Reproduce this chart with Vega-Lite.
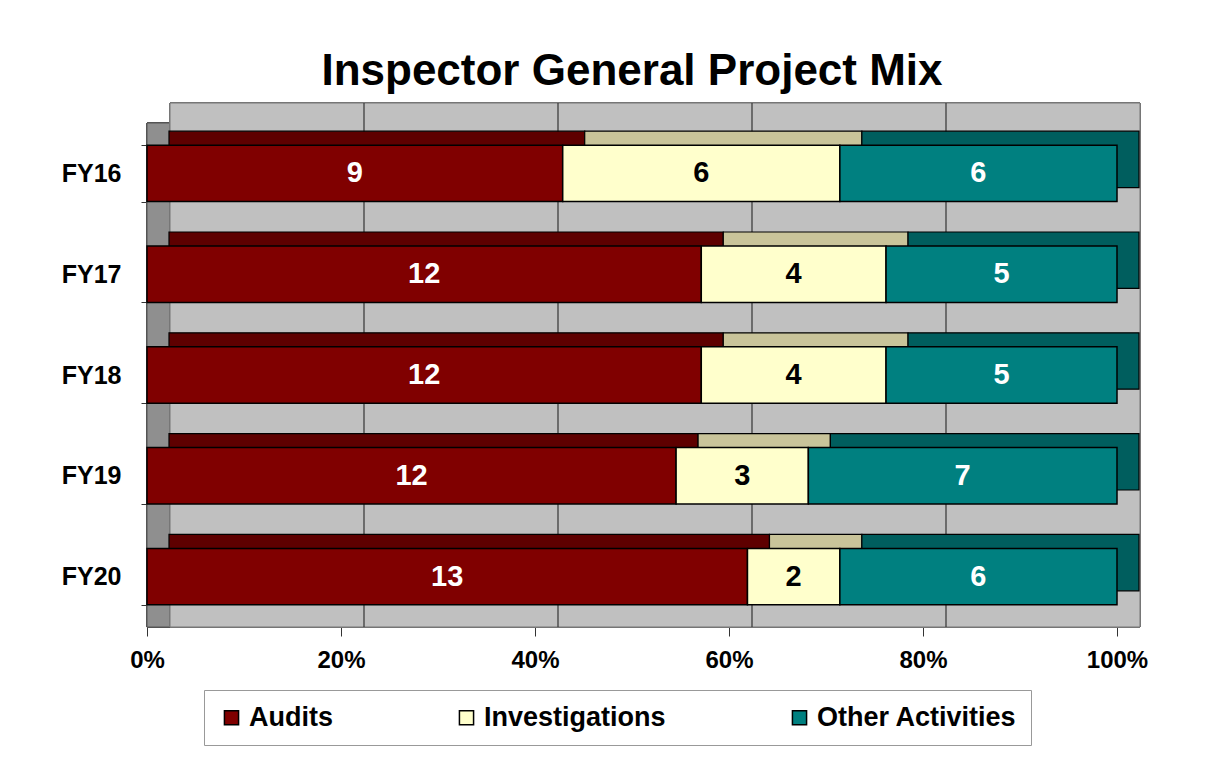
{
  "$schema": "https://vega.github.io/schema/vega-lite/v6.json",
  "width": 970,
  "height": 504,
  "autosize": {"type": "none"},
  "padding": {"left": 147, "top": 123, "right": 100, "bottom": 147},
  "background": "white",
  "title": {"text": "Inspector General Project Mix", "font": "Liberation Sans", "fontSize": 44, "fontWeight": "bold", "color": "black", "anchor": "middle", "offset": 8},
  "data": {"values": [
    {"fy": "FY16", "type": "Audits", "k": 1, "n": 9},
    {"fy": "FY16", "type": "Investigations", "k": 2, "n": 6},
    {"fy": "FY16", "type": "Other Activities", "k": 3, "n": 6},
    {"fy": "FY17", "type": "Audits", "k": 1, "n": 12},
    {"fy": "FY17", "type": "Investigations", "k": 2, "n": 4},
    {"fy": "FY17", "type": "Other Activities", "k": 3, "n": 5},
    {"fy": "FY18", "type": "Audits", "k": 1, "n": 12},
    {"fy": "FY18", "type": "Investigations", "k": 2, "n": 4},
    {"fy": "FY18", "type": "Other Activities", "k": 3, "n": 5},
    {"fy": "FY19", "type": "Audits", "k": 1, "n": 12},
    {"fy": "FY19", "type": "Investigations", "k": 2, "n": 3},
    {"fy": "FY19", "type": "Other Activities", "k": 3, "n": 7},
    {"fy": "FY20", "type": "Audits", "k": 1, "n": 13},
    {"fy": "FY20", "type": "Investigations", "k": 2, "n": 2},
    {"fy": "FY20", "type": "Other Activities", "k": 3, "n": 6}
  ]},
  "layer": [
    {
      "mark": {"type": "rect", "fill": "#8f8f8f", "stroke": "#555", "strokeWidth": 1},
      "encoding": {
        "x": {"datum": 0, "type": "quantitative", "scale": {"domain": [0, 1]}},
        "x2": {"datum": 1}
      }
    },
    {
      "mark": {"type": "rect", "fill": "#c0c0c0", "stroke": "#777", "strokeWidth": 1, "xOffset": 23, "x2Offset": 23, "yOffset": -20, "y2Offset": -20},
      "encoding": {
        "x": {"datum": 0, "type": "quantitative"},
        "x2": {"datum": 1}
      }
    },
    {
      "data": {"values": [{"g": 0.2}, {"g": 0.4}, {"g": 0.6}, {"g": 0.8}]},
      "mark": {"type": "rule", "color": "#333", "strokeWidth": 1.2, "xOffset": 23, "yOffset": -20, "y2Offset": -20},
      "encoding": {
        "x": {"field": "g", "type": "quantitative"}
      }
    },
    {
      "mark": {"type": "bar", "stroke": "black", "strokeWidth": 1.2, "xOffset": 22, "x2Offset": 22, "yOffset": -14, "y2Offset": -14},
      "encoding": {
        "y": {"field": "fy", "type": "nominal", "sort": ["FY16", "FY17", "FY18", "FY19", "FY20"], "scale": {"paddingInner": 0.44, "paddingOuter": 0.22}},
        "x": {"field": "n", "type": "quantitative", "stack": "normalize"},
        "detail": {"field": "type"},
        "order": {"field": "k", "type": "quantitative"},
        "fill": {"condition": [
          {"test": "datum.type === 'Audits'", "value": "#5e0000"},
          {"test": "datum.type === 'Investigations'", "value": "#c9c49a"}
        ], "value": "#005e5e"}
      }
    },
    {
      "mark": {"type": "bar", "stroke": "black", "strokeWidth": 1.5},
      "encoding": {
        "y": {"field": "fy", "type": "nominal", "sort": ["FY16", "FY17", "FY18", "FY19", "FY20"], "scale": {"paddingInner": 0.44, "paddingOuter": 0.22}},
        "x": {"field": "n", "type": "quantitative", "stack": "normalize", "axis": {"values": [0, 0.2, 0.4, 0.6, 0.8, 1], "format": ".0%", "labelFlush": false}},
        "order": {"field": "k", "type": "quantitative"},
        "color": {"field": "type", "type": "nominal",
          "scale": {"domain": ["Audits", "Investigations", "Other Activities"], "range": ["#800000", "#ffffcc", "#008080"]},
          "legend": {"orient": "none", "legendX": 57, "legendY": 567, "direction": "horizontal", "title": null,
            "labelFont": "Liberation Sans", "labelFontWeight": "bold", "labelFontSize": 27, "labelColor": "black", "labelLimit": 400,
            "symbolType": "square", "symbolSize": 200, "symbolStrokeColor": "black", "symbolStrokeWidth": 1.5, "symbolOpacity": 1,
            "columnPadding": 120, "padding": 14, "strokeColor": "#999", "fillColor": "white", "labelOffset": 4}}
      }
    },
    {
      "transform": [
        {"stack": "n", "groupby": ["fy"], "sort": [{"field": "k"}], "as": ["s0", "s1"], "offset": "normalize"},
        {"calculate": "(datum.s0 + datum.s1) / 2", "as": "mid"}
      ],
      "mark": {"type": "text", "font": "Liberation Sans", "fontWeight": "bold", "fontSize": 29, "baseline": "middle", "align": "center"},
      "encoding": {
        "y": {"field": "fy", "type": "nominal", "sort": ["FY16", "FY17", "FY18", "FY19", "FY20"]},
        "x": {"field": "mid", "type": "quantitative"},
        "text": {"field": "n", "type": "quantitative"},
        "fill": {"condition": {"test": "datum.type === 'Investigations'", "value": "black"}, "value": "white"}
      }
    }
  ],
  "config": {
    "view": {"stroke": null},
    "axis": {"title": null, "labelFont": "Liberation Sans", "labelFontWeight": "bold", "labelColor": "black", "domainColor": "black", "tickColor": "#333", "grid": false},
    "axisX": {"labelFontSize": 24, "tickSize": 9, "labelPadding": 12, "domainWidth": 1.2},
    "axisY": {"labelFontSize": 25, "tickBand": "extent", "tickSize": 6, "labelPadding": 20, "domainWidth": 1.2}
  }
}
